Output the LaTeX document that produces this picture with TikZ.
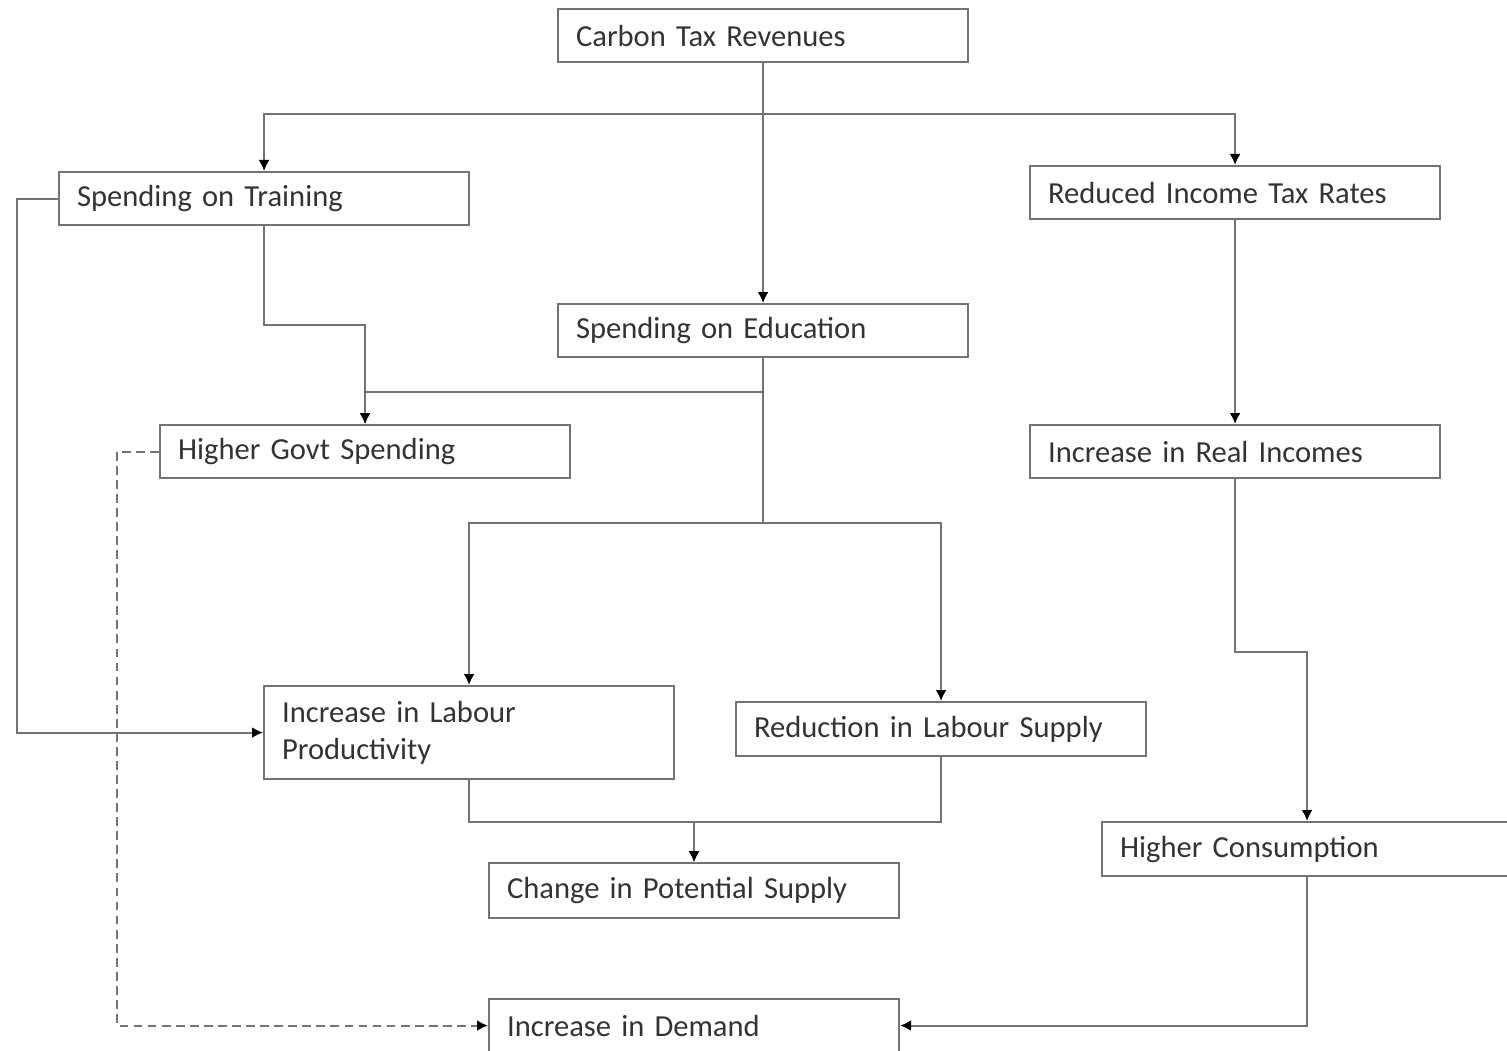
\documentclass[tikz,border=0pt]{standalone}
\usepackage{fontspec}
\setmainfont{Carlito}
\usetikzlibrary{arrows,arrows.meta}
\usetikzlibrary{calc}
\colorlet{linecol}{black!55}
\colorlet{textcol}{black!80}
\tikzset{>={Latex[length=1.1mm,width=1.1mm,color=black]}}
\tikzset{
  box/.style={draw=linecol,line width=0.6pt,rectangle,anchor=north west,
              minimum width=4.1cm,minimum height=#1,text width=3.74cm,
              inner xsep=0.18cm,inner ysep=0pt,align=left,text=textcol,
              font=\fontsize{8.7}{10.6}\selectfont},
  box/.default=0.53cm,
  link/.style={draw=linecol,line width=0.6pt,->},
  dashlink/.style={link,dashed,dash pattern=on 2.5pt off 1.5pt}}

\begin{document}
\begin{tikzpicture}
  \def\W{15.07}                 % width
  \def\H{10.51}                 % height
  \useasboundingbox (0,0) rectangle (\W,-\H);
  \clip (0,0) rectangle (\W,-\H);
  
  % BOXES
  \node[box]        (CTR) at (5.57,-0.08)  {Carbon Tax Revenues};
  \node[box]        (ST)  at (0.58,-1.71)  {Spending on Training};
  \node[box]        (RIT) at (10.29,-1.65) {Reduced Income Tax Rates};
  \node[box]        (SE)  at (5.57,-3.03)  {Spending on Education};
  \node[box]        (HGS) at (1.59,-4.24)  {Higher Govt Spending};
  \node[box]        (IRI) at (10.29,-4.24) {Increase in Real Incomes};
  \node[box=0.93cm] (ILP) at (2.63,-6.85)  {Increase in Labour\\Productivity};
  \node[box=0.54cm] (RLS) at (7.35,-7.01)  {Reduction in Labour Supply};
  \node[box=0.54cm] (HC)  at (11.01,-8.21) {Higher Consumption};
  \node[box=0.55cm] (CPS) at (4.88,-8.62)  {Change in Potential Supply};
  \node[box]        (ID)  at (4.88,-9.98)  {Increase in Demand};
  
  % FROM REVENUES
  \draw[link] (CTR.south) -- ++(0,-0.51) -| (ST.north);
  \draw[link] (CTR.south) -- ++(0,-0.51) -| (RIT.north);
  \draw[link] (CTR.south) -- (SE.north);
  
  % TRAINING AND EDUCATION
  \draw[link] (ST.south) -- ++(0,-0.99) -| (HGS.north);
  \draw[link] (SE.south) -- ++(0,-0.34) -| (HGS.north);
  \draw[link] (SE.south) -- ++(0,-1.65) -| (ILP.north);
  \draw[link] (SE.south) -- ++(0,-1.65) -| (RLS.north);
  \draw[link] (ST.west) -- ++(-0.41,0) |- (ILP.west);
  
  % INCOME TAX
  \draw[link] (RIT.south) -- (IRI.north);
  \draw[link] (IRI.south) -- ++(0,-1.73) -| (HC.north);
  \draw[link] (HC.south) |- (ID.east);
  
  % SUPPLY AND DEMAND
  \draw[link] (ILP.south) -- ++(0,-0.42) -| (CPS.north);
  \draw[link] (RLS.south) -- ++(0,-0.65) -| (CPS.north);
  \draw[dashlink] (HGS.west) -- ++(-0.42,0) |- (ID.west);
  
\end{tikzpicture}
\end{document}
